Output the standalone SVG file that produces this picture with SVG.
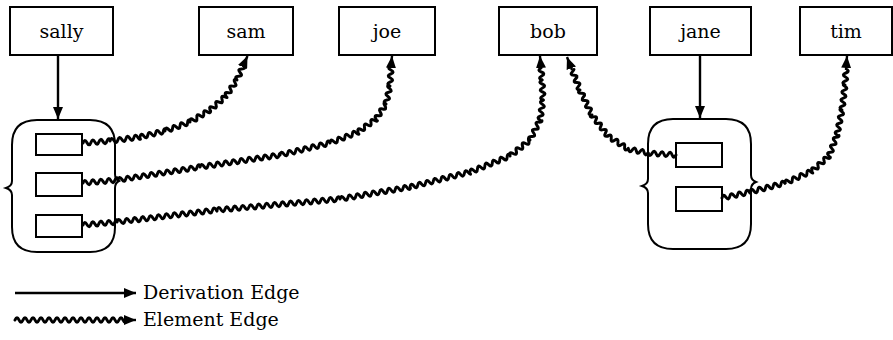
<svg xmlns="http://www.w3.org/2000/svg" width="893" height="340" viewBox="0 0 893 340">
  <style>
    .box { fill: #fff; stroke: #000; stroke-width: 2; }
    .slot { fill: #fff; stroke: #000; stroke-width: 2; }
    .set { fill: none; stroke: #000; stroke-width: 2; }
    text { font-family: "DejaVu Serif", "Liberation Serif", serif; font-size: 19px; fill: #000; }
    .lbl { text-anchor: middle; }
    .deriv { fill: none; stroke: #000; stroke-width: 2.4; marker-end: url(#ah); }
    .wave { fill: none; stroke: #000; stroke-width: 3; stroke-linecap: round; stroke-linejoin: round; }
    .tip { fill: none; stroke: #000; stroke-width: 2.4; marker-end: url(#ah); }
  </style>
  <defs>
    <marker id="ah" markerWidth="12" markerHeight="10" refX="12" refY="5" orient="auto" markerUnits="userSpaceOnUse">
      <path d="M0,0 L12,5 L0,10 Z" fill="#000"/>
    </marker>
    <!-- 200px of wiggle along +x; each use trims it with a dash of the wanted length -->
    <path id="wv" class="wave" pathLength="200" d="M0,0 q2,-4.6 4,0 t4,0 4,0 4,0 4,0 4,0 4,0 4,0 4,0 4,0 4,0 4,0 4,0 4,0 4,0 4,0 4,0 4,0 4,0 4,0 4,0 4,0 4,0 4,0 4,0 4,0 4,0 4,0 4,0 4,0 4,0 4,0 4,0 4,0 4,0 4,0 4,0 4,0 4,0 4,0 4,0 4,0 4,0 4,0 4,0 4,0 4,0 4,0 4,0 4,0"/>
  </defs>

  <!-- top row of objects -->
  <g id="sally"><rect class="box" x="10" y="7" width="103" height="48"/><text class="lbl" x="61.5" y="37.5">sally</text></g>
  <g id="sam"><rect class="box" x="199" y="7" width="94" height="48"/><text class="lbl" x="246" y="37.5">sam</text></g>
  <g id="joe"><rect class="box" x="339" y="7" width="96" height="48"/><text class="lbl" x="387" y="37.5">joe</text></g>
  <g id="bob"><rect class="box" x="499" y="7" width="98" height="48"/><text class="lbl" x="548" y="37.5">bob</text></g>
  <g id="jane"><rect class="box" x="650" y="7" width="101" height="48"/><text class="lbl" x="700.5" y="37.5">jane</text></g>
  <g id="tim"><rect class="box" x="800" y="7" width="92" height="48"/><text class="lbl" x="846" y="37.5">tim</text></g>

  <!-- set objects with element slots -->
  <g id="sally-set">
    <path class="set" d="M37,120 H90 Q115,120 115,145 V174 q0,5 4,7 q-4,2 -4,7 V227 Q115,252 90,252 H37 Q12,252 12,227 V195 q0,-5 -6,-7 q6,-2 6,-7 V145 Q12,120 37,120 Z"/>
    <rect class="slot" x="36" y="134" width="46" height="21"/>
    <rect class="slot" x="36" y="173" width="46" height="23"/>
    <rect class="slot" x="36" y="215" width="46" height="22"/>
  </g>
  <g id="jane-set">
    <path class="set" d="M673,119 H726 Q751,119 751,144 V175 q0,5 5,7 q-5,2 -5,7 V224 Q751,249 726,249 H673 Q648,249 648,224 V193 q0,-5 -6,-7 q6,-2 6,-7 V144 Q648,119 673,119 Z"/>
    <rect class="slot" x="676" y="143" width="46" height="24"/>
    <rect class="slot" x="676" y="187" width="46" height="24"/>
  </g>

  <g id="connectors">
    <!-- derivation edges -->
    <path class="deriv" d="M58,56 V119"/>
    <path class="deriv" d="M700,56 V118"/>

    <!-- sally slot 1 to sam -->
    <use href="#wv" transform="translate(83,143) rotate(-4.24)" stroke-dasharray="27.1 400"/>
    <use href="#wv" transform="translate(110,141) rotate(-7.59)" stroke-dasharray="30.3 400"/>
    <use href="#wv" transform="translate(140,137) rotate(-13.5)" stroke-dasharray="25.7 400"/>
    <use href="#wv" transform="translate(165,131) rotate(-19.8)" stroke-dasharray="26.6 400"/>
    <use href="#wv" transform="translate(190,122) rotate(-30.96)" stroke-dasharray="23.3 400"/>
    <use href="#wv" transform="translate(210,110) rotate(-41.19)" stroke-dasharray="21.3 400"/>
    <use href="#wv" transform="translate(226,96) rotate(-55.49)" stroke-dasharray="19.4 400"/>
    <use href="#wv" transform="translate(237,80) rotate(-66.8)" stroke-dasharray="15.2 400"/>
    <path class="tip" d="M243,66 L247.5,56"/>

    <!-- sally slot 2 to joe -->
    <use href="#wv" transform="translate(83,183) rotate(-4.9)" stroke-dasharray="35.1 400"/>
    <use href="#wv" transform="translate(118,180) rotate(-9.01)" stroke-dasharray="83 400"/>
    <use href="#wv" transform="translate(200,167) rotate(-8.53)" stroke-dasharray="80.9 400"/>
    <use href="#wv" transform="translate(280,155) rotate(-13.5)" stroke-dasharray="51.4 400"/>
    <use href="#wv" transform="translate(330,143) rotate(-21.45)" stroke-dasharray="30.1 400"/>
    <use href="#wv" transform="translate(358,132) rotate(-35.84)" stroke-dasharray="22.2 400"/>
    <use href="#wv" transform="translate(376,119) rotate(-56.31)" stroke-dasharray="18 400"/>
    <use href="#wv" transform="translate(386,104) rotate(-77.47)" stroke-dasharray="18.4 400"/>
    <use href="#wv" transform="translate(390,86) rotate(-86.82)" stroke-dasharray="18 400"/>
    <path class="tip" d="M391,68 L392,56"/>

    <!-- sally slot 3 to bob -->
    <use href="#wv" transform="translate(83,225) rotate(-5.04)" stroke-dasharray="34.1 400"/>
    <use href="#wv" transform="translate(117,222) rotate(-6.84)" stroke-dasharray="100.7 400"/>
    <use href="#wv" transform="translate(217,210) rotate(-5.11)" stroke-dasharray="123.5 400"/>
    <use href="#wv" transform="translate(340,199) rotate(-9.73)" stroke-dasharray="71 400"/>
    <use href="#wv" transform="translate(410,187) rotate(-14.04)" stroke-dasharray="61.9 400"/>
    <use href="#wv" transform="translate(470,172) rotate(-21.8)" stroke-dasharray="43.1 400"/>
    <use href="#wv" transform="translate(510,156) rotate(-38.66)" stroke-dasharray="25.6 400"/>
    <use href="#wv" transform="translate(530,140) rotate(-63.43)" stroke-dasharray="22.4 400"/>
    <use href="#wv" transform="translate(540,120) rotate(-81.47)" stroke-dasharray="20.2 400"/>
    <use href="#wv" transform="translate(543,100) rotate(-92.86)" stroke-dasharray="20 400"/>
    <use href="#wv" transform="translate(542,80) rotate(-94.76)" stroke-dasharray="12 400"/>
    <path class="tip" d="M541,68 L540,56"/>

    <!-- jane slot 1 to bob -->
    <use href="#wv" transform="translate(676,155) rotate(-175.91)" stroke-dasharray="28.1 400"/>
    <use href="#wv" transform="translate(648,153) rotate(-168.69)" stroke-dasharray="20.4 400"/>
    <use href="#wv" transform="translate(628,149) rotate(-146.98)" stroke-dasharray="23.9 400"/>
    <use href="#wv" transform="translate(608,136) rotate(-127.3)" stroke-dasharray="26.4 400"/>
    <use href="#wv" transform="translate(592,115) rotate(-115.64)" stroke-dasharray="27.7 400"/>
    <use href="#wv" transform="translate(580,90) rotate(-111.8)" stroke-dasharray="21.5 400"/>
    <path class="tip" d="M572,70 L567,57"/>

    <!-- jane slot 2 to tim -->
    <use href="#wv" transform="translate(722,198) rotate(-12.09)" stroke-dasharray="28.6 400"/>
    <use href="#wv" transform="translate(750,192) rotate(-14.42)" stroke-dasharray="36.1 400"/>
    <use href="#wv" transform="translate(785,183) rotate(-23.96)" stroke-dasharray="29.6 400"/>
    <use href="#wv" transform="translate(812,171) rotate(-41.42)" stroke-dasharray="22.7 400"/>
    <use href="#wv" transform="translate(829,156) rotate(-69.15)" stroke-dasharray="22.5 400"/>
    <use href="#wv" transform="translate(837,135) rotate(-78.69)" stroke-dasharray="25.5 400"/>
    <use href="#wv" transform="translate(842,110) rotate(-83.16)" stroke-dasharray="25.2 400"/>
    <use href="#wv" transform="translate(845,85) rotate(-86.19)" stroke-dasharray="15 400"/>
    <path class="tip" d="M846,70 L847,56"/>
  </g>

  <!-- key -->
  <g id="legend">
    <path class="deriv" d="M15,293 H136"/>
    <text x="143" y="299">Derivation Edge</text>
    <use href="#wv" transform="translate(15,320)" stroke-dasharray="112 400"/>
    <path class="tip" d="M126,320 L136,320"/>
    <text x="143" y="326">Element Edge</text>
  </g>
</svg>
